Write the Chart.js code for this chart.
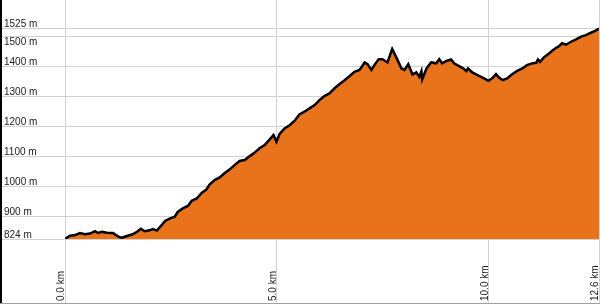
<!DOCTYPE html>
<html lang="en">
<head>
  <meta charset="UTF-8" />
  <title>Elevation profile</title>
  <script src="https://cdn.jsdelivr.net/npm/chart.js"></script>
  <style>
    body {
      margin: 0;
      background: #fff;
    }
    .chart-container {
      position: relative;
      width: 600px;
      height: 304px;
    }
  </style>
</head>
<body>
  <div class="chart-container">
    <canvas id="profile"></canvas>
  </div>

  <script>
    // distance along the track (km) and elevation (m)
    const distanceKm = [
      0.00, 0.12, 0.24, 0.35, 0.47, 0.59, 0.71, 0.78, 0.87, 0.99,
      1.13, 1.25, 1.34, 1.46, 1.58, 1.70, 1.79, 1.88, 2.00, 2.07,
      2.17, 2.21, 2.28, 2.36, 2.47, 2.59, 2.66, 2.78, 2.90, 2.99,
      3.11, 3.23, 3.34, 3.41, 3.53, 3.65, 3.77, 3.89, 4.00, 4.12,
      4.24, 4.36, 4.47, 4.59, 4.71, 4.83, 4.92, 4.99, 5.06, 5.18,
      5.30, 5.42, 5.53, 5.65, 5.77, 5.89, 6.01, 6.12, 6.24, 6.36,
      6.48, 6.59, 6.71, 6.83, 6.95, 7.07, 7.14, 7.23, 7.30, 7.40,
      7.49, 7.61, 7.72, 7.82, 7.94, 8.01, 8.10, 8.20, 8.29, 8.36,
      8.41, 8.43, 8.53, 8.64, 8.76, 8.83, 8.90, 9.00, 9.11, 9.18,
      9.30, 9.40, 9.47, 9.51, 9.61, 9.70, 9.77, 9.89, 9.99, 10.08,
      10.17, 10.24, 10.33, 10.43, 10.55, 10.67, 10.79, 10.90, 11.02, 11.12,
      11.16, 11.21, 11.30, 11.42, 11.54, 11.66, 11.73, 11.82, 11.94, 12.06,
      12.18, 12.29, 12.41, 12.51, 12.60
    ];
    const elevationM = [
      824, 835, 837, 844, 840, 842, 850, 844, 848, 845,
      844, 833, 828, 834, 839, 848, 858, 850, 853, 857,
      852, 859, 870, 884, 892, 898, 914, 926, 934, 951,
      959, 978, 989, 1005, 1020, 1029, 1044, 1056, 1070, 1084,
      1087, 1100, 1111, 1126, 1137, 1156, 1170, 1148, 1173, 1192,
      1203, 1218, 1239, 1248, 1259, 1270, 1287, 1300, 1309, 1326,
      1340, 1352, 1366, 1381, 1387, 1412, 1406, 1387, 1403, 1423,
      1423, 1412, 1457, 1428, 1392, 1387, 1406, 1372, 1379, 1364,
      1383, 1356, 1392, 1412, 1409, 1423, 1409, 1417, 1422, 1409,
      1400, 1392, 1383, 1392, 1379, 1372, 1367, 1359, 1351, 1359,
      1373, 1362, 1353, 1359, 1373, 1384, 1392, 1403, 1409, 1411,
      1422, 1414, 1429, 1442, 1456, 1467, 1476, 1471, 1481, 1489,
      1498, 1503, 1511, 1517, 1525
    ];
    const xTicks = [0, 5, 10, 12.6];
    const yTicks = [824, 900, 1000, 1100, 1200, 1300, 1400, 1500, 1525];

    const gridColor = '#d2d2d2';
    const labelFont = '10px "Liberation Sans", Arial, sans-serif';

    // tick labels: y labels sit above their line (below it when the next line is too close),
    // x labels are rotated and start at the bottom edge
    const profileLabels = {
      id: 'profileLabels',
      afterDraw(chart) {
        const { ctx, scales: { x, y } } = chart;
        ctx.save();
        ctx.fillStyle = '#000';
        ctx.fillRect(0, 0, 2, chart.height);
        ctx.fillStyle = '#a0a0a0';
        ctx.fillRect(0, chart.height - 1, chart.width, 1);

        ctx.font = labelFont;
        ctx.fillStyle = '#1a1a1a';
        ctx.textAlign = 'left';
        yTicks.forEach((v, i) => {
          const py = y.getPixelForValue(v);
          const next = yTicks[i + 1];
          const above = next === undefined || py - y.getPixelForValue(next) > 14;
          if (above) {
            ctx.textBaseline = 'alphabetic';
            ctx.fillText(v + ' m', 4, py - 1.5);
          } else {
            ctx.textBaseline = 'top';
            ctx.fillText(v + ' m', 4, py + 1.5);
          }
        });

        xTicks.forEach(v => {
          const px = x.getPixelForValue(v);
          ctx.save();
          ctx.translate(px - 1, chart.height - 3);
          ctx.rotate(-Math.PI / 2);
          ctx.textBaseline = 'alphabetic';
          ctx.fillText(v.toFixed(1) + ' km', 0, 0);
          ctx.restore();
        });
        ctx.restore();
      }
    };

    new Chart(document.getElementById('profile'), {
      type: 'line',
      data: {
        datasets: [{
          data: distanceKm.map((d, i) => ({ x: d, y: elevationM[i] })),
          borderColor: '#000',
          borderWidth: 2.5,
          backgroundColor: '#e9731a',
          fill: 'start',
          pointRadius: 0,
          tension: 0
        }]
      },
      plugins: [profileLabels],
      options: {
        responsive: true,
        maintainAspectRatio: false,
        animation: false,
        layout: { padding: { top: 0, right: 1, bottom: 0, left: 0 } },
        scales: {
          x: {
            type: 'linear',
            min: 0,
            max: 12.6,
            z: 1,
            afterBuildTicks: scale => { scale.ticks = xTicks.map(v => ({ value: v })); },
            afterFit: scale => { scale.height = 65; },
            ticks: { display: false },
            border: { display: false },
            grid: { color: gridColor, lineWidth: 1, drawTicks: true, tickLength: 64 }
          },
          y: {
            min: 824,
            max: 1620,
            z: 1,
            afterBuildTicks: scale => { scale.ticks = yTicks.map(v => ({ value: v })); },
            afterFit: scale => { scale.width = 65; },
            ticks: { display: false },
            border: { display: false },
            grid: { color: gridColor, lineWidth: 1, drawTicks: true, tickLength: 63 }
          }
        },
        plugins: {
          legend: { display: false },
          tooltip: { enabled: false }
        }
      }
    });
  </script>
</body>
</html>
